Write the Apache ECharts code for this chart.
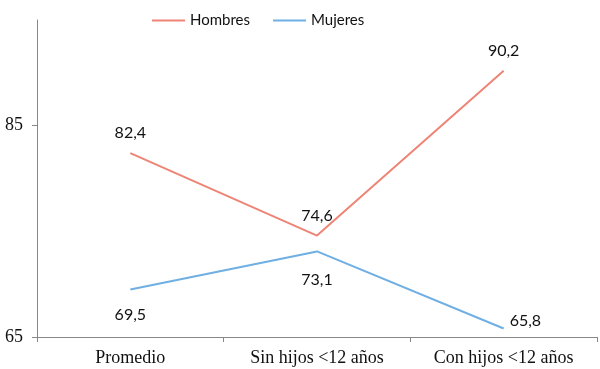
<!DOCTYPE html>
<html><head><meta charset="utf-8">
<script src="https://cdn.jsdelivr.net/npm/echarts@6/dist/echarts.min.js"></script>
<style>html,body{margin:0;padding:0;background:#fff}#c{width:600px;height:369px}</style>
</head><body><div id="c"></div>
<script>
const categories = ["Promedio", "Sin hijos <12 años", "Con hijos <12 años"];
const hombres = [82.4, 74.6, 90.2];
const mujeres = [69.5, 73.1, 65.8];
const yTicks = [65, 85];

const chart = echarts.init(document.getElementById('c'));
const fmt = p => String(p.value).replace('.', ',');
const lbl = {fontFamily: 'Lato', fontSize: 16, color: '#111', formatter: fmt};
const mujData = mujeres.map((v, i) => i === 2
  ? {value: v, label: Object.assign({show: true, position: 'right', offset: [0, -8], distance: 6}, lbl)}
  : {value: v, label: Object.assign({show: true, position: 'bottom', distance: i === 0 ? 17 : 20}, lbl)});
chart.setOption({
  animation: false,
  legend: {
    top: 8, left: 147, itemWidth: 33, itemHeight: 2, itemGap: 23,
    icon: 'rect',
    textStyle: {fontFamily: 'Lato', fontSize: 15, color: '#111'},
    data: ['Hombres', 'Mujeres']
  },
  grid: {left: 37, right: 3, top: 20, bottom: 32},
  xAxis: {
    type: 'category', data: categories, boundaryGap: true,
    axisLine: {lineStyle: {color: '#888'}},
    axisTick: {show: true, length: 5, lineStyle: {color: '#888'}},
    axisLabel: {fontFamily: 'Liberation Serif', fontSize: 18, color: '#111', margin: 12}
  },
  yAxis: {
    type: 'value', min: yTicks[0], max: 95, interval: yTicks[1] - yTicks[0],
    axisLine: {show: true, lineStyle: {color: '#888'}},
    axisTick: {show: true, length: 5, lineStyle: {color: '#888'}},
    splitLine: {show: false},
    axisLabel: {fontFamily: 'Liberation Serif', fontSize: 18, color: '#111', margin: 14, showMaxLabel: false}
  },
  series: [
    {name: 'Hombres', type: 'line', data: hombres, symbol: 'circle', symbolSize: 0.01, showSymbol: true,
     lineStyle: {color: '#EE8476', width: 2}, itemStyle: {color: '#EE8476'},
     label: Object.assign({show: true, position: 'top', distance: 12}, lbl)},
    {name: 'Mujeres', type: 'line', data: mujData, symbol: 'circle', symbolSize: 0.01, showSymbol: true,
     lineStyle: {color: '#6FAFE3', width: 2}, itemStyle: {color: '#6FAFE3'},
     label: Object.assign({show: true, position: 'bottom', distance: 16}, lbl)}
  ]
});
</script></body></html>
